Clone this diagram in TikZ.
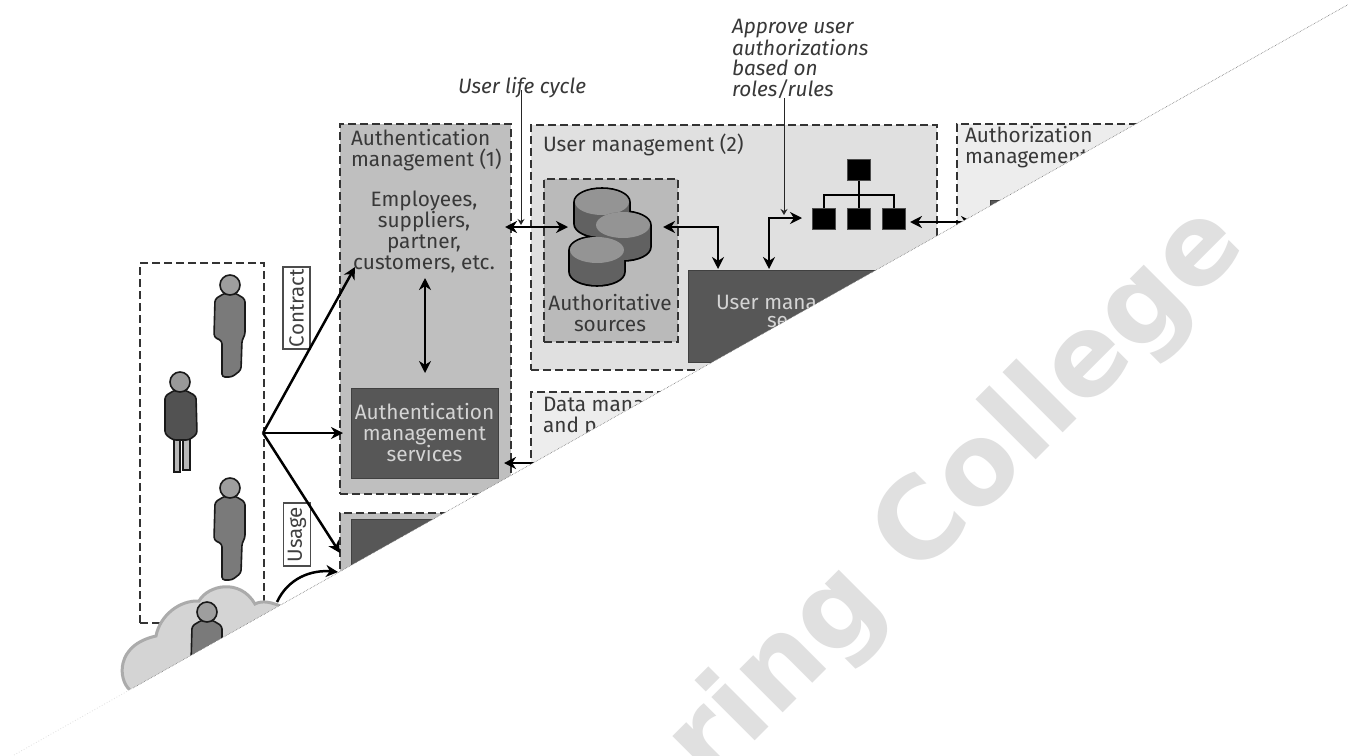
\documentclass[tikz,border=0pt]{standalone}
\usepackage{fontspec}
\setmainfont{Fira Sans}
\newfontfamily\wmfont{DejaVu Sans}
\usepackage{tikz}
\usetikzlibrary{arrows.meta}
\tikzset{
every picture/.style={line width=0.8pt, >={Stealth[length=12pt,width=12pt]}},
%%%%%%%%%%  Node styles
panel/.style={draw=black!80, line width=2.2pt, dash pattern=on 8pt off 4pt,
              anchor=north west, inner sep=0pt},
service/.style={draw=black!75, line width=1.4pt, fill=black!66, anchor=north west, inner sep=0pt},
org_box/.style={fill=black, draw=black!70, anchor=north west, inner sep=0pt,
                minimum width=23pt, minimum height=21pt},
tag/.style={draw=black!70, line width=1.4pt, fill=white, rotate=90, inner sep=0pt,
            minimum height=27pt, font=\fontsize{20.5}{21}\selectfont, text=black!75},
%%%% text styles
lbl/.style={inner sep=0, outer sep=0, align=left, anchor=north west, text=black!78,
            font=\fontsize{20.8}{21}\selectfont},
lbl_c/.style={lbl, align=center, anchor=center},
lbl_i/.style={lbl, font=\fontsize{20.8}{20.5}\selectfont\itshape},
lbl_w/.style={text=black!17},
%%%% line styles
heavy/.style={line width=2.5pt, black},
pointer/.style={line width=1pt, black!85, >={Stealth[length=6pt,width=7pt]}},
person_line/.style={draw=black!90, line width=1.6pt},
%%%%%%% Fill styles
cell/.style={fill=black!25},
cell_light/.style={fill=black!12},
cell_pale/.style={fill=black!7}
}
\newcommand{\personfig}[2]{%
\begin{scope}[shift={(#1,#2)}]
\draw[person_line, fill=black!52, rounded corners=3pt] (-5,8) -- (-15,14) -- (-16,52) -- (-8,56) -- (-8,92)
      -- (2,92) -- (11,85) -- (12,55) -- (15,50) -- (15,14) -- (5,8) -- cycle;
\draw[person_line, fill=black!38] (0,0) circle[radius=10pt];
\end{scope}}
\begin{document}
\begin{tikzpicture}[x=1pt,y=-1pt]
\clip (0,0) rectangle (1348,755);
\useasboundingbox (0,0) rectangle (1348,755);
\fill[white] (0,0) rectangle (1348,755);
%% people
\node[panel, minimum width=124pt, minimum height=360pt] (people) at (139,262) {};
\personfig{230}{285}
\personfig{230}{488}
\begin{scope}[shift={(180,382)}]
\draw[person_line, fill=black!28] (-6,50) rectangle (0,90);
\draw[person_line, fill=black!28] (3,50) rectangle (10,88);
\draw[person_line, fill=black!68, rounded corners=3pt] (-5,8) -- (-15,14) -- (-15,52) -- (-7,58) -- (9,58)
      -- (17,52) -- (16,14) -- (5,8) -- cycle;
\draw[person_line, fill=black!40] (0,0) circle[radius=10pt];
\end{scope}
%% cloud
\draw[draw=black!33, fill=black!17, line width=3pt] (130,690) .. controls (118,680) and (115,645) .. (156,636)
      .. controls (160,615) and (180,600) .. (199,601) .. controls (208,585) and (240,578) .. (255,604)
      .. controls (262,600) and (272,602) .. (285,608) -- (300,700) -- cycle;
\personfig{207}{612}
%% tags
\node[tag, minimum width=82pt] (contract) at (296.5,308) {Contract};
\node[tag, minimum width=63pt] (usage) at (297,534.5) {Usage};
%%%%%%%%%%%%%%%%%%%%%%%%%%%%%%%%%%%%%%%%%%%%%%
%% authentication management
\node[panel, cell, minimum width=171pt, minimum height=370pt] (auth_panel) at (339,123) {};
\node[lbl] (auth_title) at (351,129) {Authentication\\management (1)};
\node[lbl_c] (people_kinds) at (424,232) {Employees,\\suppliers,\\partner,\\customers, etc.};
\node[service, minimum width=147pt, minimum height=90pt] (auth_services) at (351,388) {};
\node[lbl_c, lbl_w] (auth_services_txt) at (424.5,433) {Authentication\\management\\services};
%% usage panel
\node[panel, cell, minimum width=171pt, minimum height=210pt] (usage_panel) at (339,512) {};
\node[service, minimum width=147pt, minimum height=120pt] (usage_services) at (351,519) {};
%% user management
\node[panel, cell_light, minimum width=406pt, minimum height=245pt] (user_panel) at (530,124) {};
\node[lbl] (user_title) at (543,134) {User management (2)};
\node[panel, fill=black!27, minimum width=134pt, minimum height=163pt] (sources) at (543,178) {};
\foreach \cx/\cy in {602/202,623/225,597/250}
  \draw[black, line width=3.6pt] ({\cx-27},\cy) arc[start angle=180,end angle=0,x radius=27pt,y radius=13pt]
        -- ({\cx+27},{\cy+22}) arc[start angle=0,end angle=-180,x radius=27pt,y radius=13pt] -- cycle;
\foreach \cx/\cy in {602/202,623/225,597/250} {
  \fill[black!62] ({\cx-27},\cy) arc[start angle=180,end angle=0,x radius=27pt,y radius=13pt]
        -- ({\cx+27},{\cy+22}) arc[start angle=0,end angle=-180,x radius=27pt,y radius=13pt] -- cycle;
  \fill[black!42] (\cx,\cy) ellipse[x radius=27pt,y radius=13pt];
}
\node[lbl_c] (sources_txt) at (610,313) {Authoritative\\sources};
\node[service, minimum width=224pt, minimum height=92pt] (user_services) at (688,270) {};
\node[lbl, lbl_w] (user_services_txt) at (716,295) {User mana};
\node[lbl, lbl_w] (user_services_txt2) at (767,316) {se};
%% org chart
\node[org_box] (org_top) at (847,159) {};
\node[org_box] (org_l) at (812,208) {};
\node[org_box] (org_m) at (847,208) {};
\node[org_box] (org_r) at (882,208) {};
\coordinate (org_bus) at (858.5,195);
\draw[line width=1.8pt] (org_top) -- (org_m);
\draw[line width=1.8pt] (org_l) |- (org_bus) -| (org_r);
%% data management
\node[panel, cell_pale, minimum width=406pt, minimum height=210pt] (data_panel) at (530,391) {};
\node[lbl] (data_title) at (543,397) {Data mana\\and p};
%% authorization management
\node[panel, cell_pale, minimum width=300pt, minimum height=300pt] (authz_panel) at (956,123) {};
\node[lbl] (authz_title) at (965,126) {Authorization\\management};
\node[service, minimum width=110pt, minimum height=90pt] (authz_box) at (990,200) {};
%%%%%%%%%%%%%%%%%%%%%%%%%%%%%%%%%%%%%%%%%%%%%%
%% connectors
\coordinate (hub) at (263,433);
\coordinate (hub_a) at (355,267);
\coordinate (hub_b) at (343,433);
\coordinate (hub_c) at (340,553);
\coordinate (cloud_port) at (277,602);
\coordinate (usage_port) at (338,572);
\draw[->, heavy] (hub) -- (hub_a);
\draw[->, heavy] (hub) -- (hub_b);
\draw[->, heavy] (hub) -- (hub_c);
\draw[->, heavy] (cloud_port) to[out=65,in=175] (usage_port);
%%
\coordinate (kinds_port) at (425,278);
\coordinate (auth_port) at (425,373);
\draw[<->, heavy] (kinds_port) -- (auth_port);
\coordinate (auth_right) at (505,227);
\coordinate (db_left) at (568,227);
\draw[<->, heavy] (auth_right) -- (db_left);
\coordinate (auth_low) at (504,463);
\coordinate (data_left) at (560,463);
\draw[<->, heavy] (auth_low) -- (data_left);
\coordinate (db_right) at (663,227);
\coordinate (svc_a) at (718,269);
\draw[<->, heavy] (db_right) -| (svc_a);
\coordinate (svc_b) at (769,269);
\coordinate (org_in) at (802,218);
\draw[<->, heavy] (svc_b) |- (org_in);
\coordinate (org_out) at (910,222);
\coordinate (authz_in) at (973,222);
\draw[<->, heavy] (org_out) -- (authz_in);
%% comments above the panels
\node[lbl_i] (life_cycle) at (458,77) {User life cycle};
\coordinate (life_top) at (521,90);
\coordinate (life_end) at (521,225);
\draw[->, pointer] (life_top) -- (life_end);
\node[lbl_i] (approve) at (732,19) {Approve user\\authorizations\\based on\\roles/rules};
\coordinate (approve_top) at (784,98);
\coordinate (approve_end) at (784,215);
\draw[->, pointer] (approve_top) -- (approve_end);
%%%%%%%%%%%%%%%%%%%%%%%%%%%%%%%%%%%%%%%%%%%%%%
%% the white cut and the watermark
\coordinate (cut_low) at (14,755);
\coordinate (cut_mid) at (133,688);
\coordinate (cut_high) at (1348,4.6);
\fill[white] (cut_low) -- (cut_high) -- (1348,755) -- cycle;
\draw[black!55, line width=0.6pt, densely dotted] (cut_mid) -- (cut_high);
\draw[black!12, line width=0.8pt, dotted] (cut_low) -- (cut_mid);
\node[rotate=45, anchor=base east, inner sep=0, text=black!12, font=\wmfont\bfseries\fontsize{112}{112}\selectfont] (watermark) at (1248,248) {ring College};
\end{tikzpicture}
\end{document}
